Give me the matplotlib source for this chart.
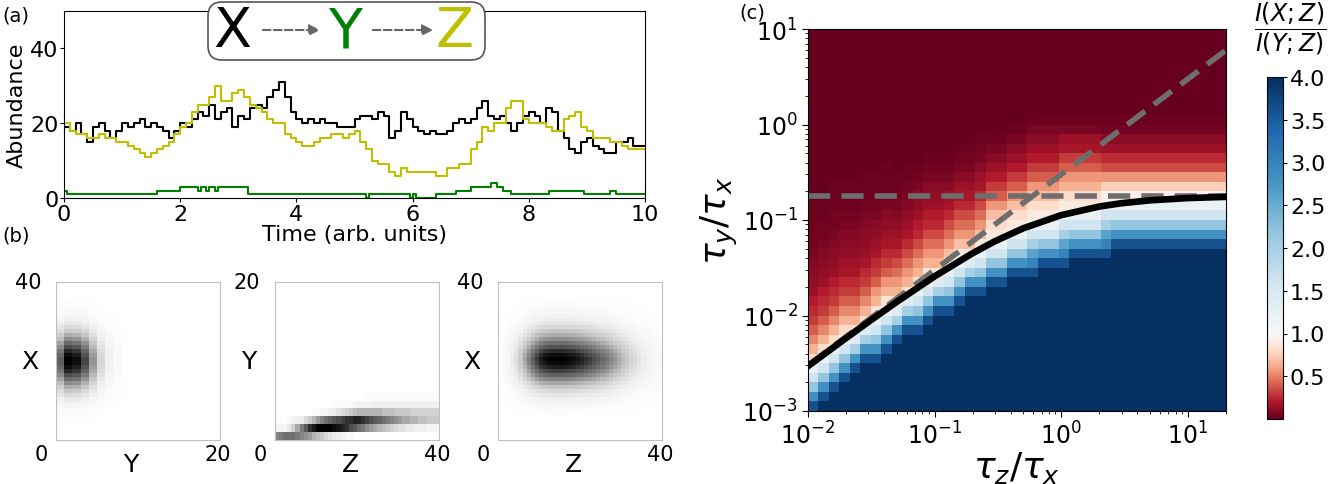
import numpy as np
import matplotlib
matplotlib.use('Agg')
import matplotlib.pyplot as plt
from matplotlib.colors import ListedColormap, Normalize
from matplotlib.patches import FancyBboxPatch, FancyArrowPatch
from matplotlib.transforms import IdentityTransform
from matplotlib.ticker import NullFormatter, FormatStrFormatter

W, H = 1344, 485

#--------------- (a) trajectories ---------------------------------------#
t_grid = np.linspace(0, 10, 101)
black_x = [19, 18, 20, 17, 15, 19, 20, 18, 16, 18,
           20, 19, 20, 21, 19, 20, 19, 18, 16, 18,
           20, 19, 21, 23, 22, 25, 21, 23, 24, 19,
           22, 21, 24, 25, 24, 27, 29, 31, 27, 23,
           21, 20, 21, 20, 21, 20, 20, 19, 19, 19,
           21, 22, 22, 21, 23, 22, 16, 18, 23, 21,
           19, 18, 17, 18, 17, 17, 18, 20, 21, 20,
           21, 24, 26, 22, 21, 22, 20, 18, 20, 22,
           23, 22, 20, 24, 23, 18, 16, 13, 12, 15,
           16, 14, 13, 12, 12, 15, 15, 16, 14, 14, 14]
yellow_z = [20, 18, 17, 17, 16, 16, 17, 16, 16, 15,
            15, 14, 13, 12, 11, 12, 13, 14, 15, 17,
            19, 20, 23, 25, 25, 27, 30, 26, 26, 28,
            29, 27, 25, 24, 23, 21, 20, 20, 17, 16,
            15, 14, 14, 15, 16, 16, 17, 17, 16, 17,
            18, 15, 13, 10, 9, 9, 7, 6, 8, 7,
            7, 7, 7, 7, 6, 6, 8, 8, 9, 9,
            13, 15, 19, 18, 20, 20, 24, 26, 26, 21,
            20, 20, 20, 19, 18, 18, 21, 22, 23, 19,
            18, 16, 16, 16, 15, 15, 14, 13, 13, 13, 13]
green_t = [0, 0.05, 1.6, 2.0, 2.3, 2.35, 2.45, 2.5, 2.6, 2.65, 3.17, 5.2, 5.25,
           5.95, 6.0, 6.05, 6.4, 6.75, 7.0, 7.35, 7.45, 7.55, 7.7, 8.35, 8.95,
           9.4, 9.5, 10.0]
green_y = [2, 1, 2, 3, 2, 3, 2, 3, 2, 3, 1, 0, 1,
           0, 1, 0, 1, 2, 3, 4, 3, 2, 1, 2, 1,
           2, 1, 1]

#--------------- (b) joint distributions -----------------#
# image 1: X (rows, 0-40) against Y (cols, 0-20), profiles
img1_rows = [0, 0, 0, 0, 0.01, 0.02, 0.03, 0.05, 0.08, 0.12, 0.17, 0.24, 0.32,
             0.42, 0.53, 0.65, 0.76, 0.86, 0.94, 0.99, 0.99, 0.94, 0.86, 0.76,
             0.65, 0.53, 0.42, 0.32, 0.24, 0.17, 0.12, 0.08, 0.05, 0.03, 0.02,
             0.01, 0, 0, 0, 0]
img1_cols = [0.7, 1.0, 0.95, 0.78, 0.5, 0.26, 0.12, 0.05, 0.02] + [0] * 11
# image 2: Y (rows 0-5 shown, of 20) against Z (cols, 0-40), darkness 0-25
img2_rows = [
    [14, 15, 16, 16, 16, 15, 14, 13, 12, 10, 9, 8, 6, 5, 4, 3, 2, 1, 1, 0] + [0] * 20,
    [2, 2, 2, 4, 7, 11, 15, 18, 21, 23, 25, 25, 25, 25, 24, 23, 22, 21, 19, 18,
     16, 15, 13, 12, 11, 10, 9, 8, 7, 6, 5, 5, 4, 4, 3, 3, 3, 2, 2, 2],
    [0, 0, 0, 1, 2, 3, 4, 6, 8, 10, 12, 14, 16, 17, 18, 19, 20, 21, 21, 22,
     22, 21, 20, 19, 18, 17, 16, 15, 14, 13, 12, 11, 11, 10, 10, 9, 9, 8, 8, 8],
    [0, 0, 0, 0, 0, 0, 0, 0, 0, 1, 1, 2, 2, 3, 4, 5, 6, 7, 8, 9,
     10, 10, 10, 10, 10, 10, 9, 9, 9, 8, 8, 8, 8, 7, 7, 7, 7, 7, 7, 7],
    [0] * 14 + [1, 1, 1, 1, 1, 2, 2, 2, 2] + [3] * 17,
    [0] * 22 + [1] * 18,
]
# image 3: X (rows, 0-40) against Z (cols, 0-40)
img3_rows = [0, 0, 0, 0, 0, 0.01, 0.02, 0.04, 0.06, 0.09, 0.13, 0.18, 0.25, 0.34,
             0.45, 0.57, 0.69, 0.8, 0.9, 0.97, 1.0, 0.95, 0.86, 0.75, 0.64, 0.53,
             0.43, 0.34, 0.26, 0.19, 0.14, 0.1, 0.07, 0.05, 0.03, 0.02, 0.01, 0, 0, 0]
img3_cols = [0.01, 0.04, 0.08, 0.14, 0.22, 0.32, 0.45, 0.58, 0.7, 0.81,
             0.9, 0.95, 0.98, 1.0, 1.0, 1.0, 0.99, 0.97, 0.95, 0.92,
             0.89, 0.85, 0.81, 0.77, 0.72, 0.67, 0.62, 0.56, 0.5, 0.44,
             0.38, 0.33, 0.28, 0.23, 0.19, 0.15, 0.12, 0.09, 0.07, 0.05]

#--------------- (c) ratio map, one string per tau_z column (bottom -> top) ---#
RED_KEYS = 'abcdefghijklmnopqrstuvwxy'
RED_VALS = [0.0, 0.02, 0.04, 0.06, 0.08, 0.1, 0.12, 0.15, 0.18, 0.21, 0.25, 0.3,
            0.35, 0.4, 0.45, 0.5, 0.55, 0.6, 0.65, 0.7, 0.75, 0.8, 0.85, 0.9, 0.95]
BLUE_KEYS = 'ABCDEFGHIJKLMNOP'
BLUE_VALS = [1.0, 1.2, 1.4, 1.6, 1.8, 2.0, 2.2, 2.4, 2.6, 2.8, 3.0, 3.2, 3.4,
             3.6, 3.8, 4.0]
ratio_cols = [
    "NJGDBvspnlkjhgfedccbbbaaaaaaaaaaaaaaaaaa",
    "PNJGDBvspnlkjhgfedccbbbaaaaaaaaaaaaaaaaa",
    "PPNJGDBvspnlkjhgfedccbbbaaaaaaaaaaaaaaaa",
    "PPPNJGDBvspnlkihgfedcbbbaaaaaaaaaaaaaaaa",
    "PPPPNJFCvspnlkihgfedcbbbaaaaaaaaaaaaaaaa",
    "PPPPPNJFCvspnlkihgfedcbbbaaaaaaaaaaaaaaa",
    "PPPPPNJGDBwsqnlkihgfdcbbbaaaaaaaaaaaaaaa",
    "PPPPPPNJGDBwsqnlkihgfdcbbbaaaaaaaaaaaaaa",
    "PPPPPPPNJFCwsqomkihgedcbbaaaaaaaaaaaaaaa",
    "PPPPPPPPNJFCwsqomkihgedcbbaaaaaaaaaaaaaa",
    "PPPPPPPPNJGDBwsqomkjhgfdcbaaaaaaaaaaaaaa",
    "PPPPPPPPPNJGDBwsqomkjhgfdcbaaaaaaaaaaaaa",
    "PPPPPPPPPPNJFCwsqomkjhgfdcbaaaaaaaaaaaaa",
    "PPPPPPPPPPNJGDBxtqomkihfdcbaaaaaaaaaaaaa",
    "PPPPPPPPPPPNJGDBxtqomkihfdcbaaaaaaaaaaaa",
    "PPPPPPPPPPPPNJFCxtqomkihfdcbaaaaaaaaaaaa",
    "PPPPPPPPPPPPNJGDBxtqomkihfdcbaaaaaaaaaaa",
    "PPPPPPPPPPPPPNJGDBxvtqnljhfdbaaaaaaaaaaa",
    "PPPPPPPPPPPPPNJGDBxvtqnljhfdbaaaaaaaaaaa",
    "PPPPPPPPPPPPPPNJGDBxvtqnljhfdbaaaaaaaaaa",
    "PPPPPPPPPPPPPPNJGDBxvtqnljhfdbaaaaaaaaaa",
    "PPPPPPPPPPPPPPNKIFDBxvtqnljhfdbaaaaaaaaa",
    "PPPPPPPPPPPPPPPNJGDBxvtqnljhfdbaaaaaaaaa",
    "PPPPPPPPPPPPPPPNJGDBxvtqnljhfdbaaaaaaaaa",
    "PPPPPPPPPPPPPPPNKIFDBxvsqnlihdbaaaaaaaaa",
    "PPPPPPPPPPPPPPPPNJGDBxvsqnlihdbaaaaaaaaa",
    "PPPPPPPPPPPPPPPPNJGDBxvsqnlihdbaaaaaaaaa",
    "PPPPPPPPPPPPPPPPNJGDBxvsqnlihdbaaaaaaaaa",
    "PPPPPPPPPPPPPPPPNKIFDByuqmkhfcbaaaaaaaaa",
    "PPPPPPPPPPPPPPPPPNJGDByuqmkhfcbaaaaaaaaa",
    "PPPPPPPPPPPPPPPPPNJGDByuqmkhfcbaaaaaaaaa",
    "PPPPPPPPPPPPPPPPPNJGDByuqmkhfcbaaaaaaaaa",
    "PPPPPPPPPPPPPPPPPNJGDByuqmkhfcbaaaaaaaaa",
    "PPPPPPPPPPPPPPPPPNJGDByuqmkhfcbaaaaaaaaa",
    "PPPPPPPPPPPPPPPPPNJGDByuqmkhfcbaaaaaaaaa",
    "PPPPPPPPPPPPPPPPPNJGDByuqmkhfcbaaaaaaaaa",
    "PPPPPPPPPPPPPPPPPNJGDByuqmkhfcbaaaaaaaaa",
    "PPPPPPPPPPPPPPPPPNJGDByuqmkhfcbaaaaaaaaa",
    "PPPPPPPPPPPPPPPPPNJGDByuqmkhfcbaaaaaaaaa",
    "PPPPPPPPPPPPPPPPPNJGDByuqmkhfcbaaaaaaaaa",
]
# black curve I(X;Z)=I(Y;Z) and the two dashed asymptotes
curve_tz = [0.01, 0.02, 0.03, 0.05, 0.1, 0.2, 0.3, 0.5, 1, 2, 3, 5, 10, 20]
curve_ty = [0.00295, 0.00581, 0.00857, 0.01384, 0.0257, 0.045, 0.06, 0.0818,
            0.1125, 0.1384, 0.15, 0.1606, 0.1697, 0.1747]
hline_tz = [0.01, 20]
hline_ty = [0.18, 0.18]
diag_tz = [0.01, 20]
diag_ty = [0.003, 6.0]

#--------------- writing plots -----------------#
fig = plt.figure(figsize=(W / 100, H / 100), dpi=100)


def fx(x, y):
    return x / W, 1 - y / H


# ---- (a)
axa = fig.add_axes([64 / W, 1 - 199 / H, 581 / W, 187 / H])
axa.step(t_grid, black_x, where='post', color='k', lw=1.5)
axa.step(green_t, green_y, where='post', color='#008000', lw=1.5)
axa.step(t_grid, yellow_z, where='post', color='#bfbf00', lw=1.5)
axa.set_xlim(0, 10)
axa.set_ylim(0, 50)
axa.set_xticks([0, 2, 4, 6, 8, 10])
axa.set_yticks([0, 20, 40])
axa.tick_params(labelsize=16, length=3, pad=1)
axa.set_xlabel('Time (arb. units)', fontsize=16, labelpad=0)
axa.set_ylabel('Abundance', fontsize=16, labelpad=2)

box = FancyBboxPatch((208, H - 61), 277, 58, boxstyle='round,pad=0,rounding_size=14',
                     transform=IdentityTransform(), facecolor='white',
                     edgecolor='#555555', lw=1.2, zorder=5)
fig.add_artist(box)
for letter, xc, col in [('X', 232, 'k'), ('Y', 345, '#008000'), ('Z', 455, '#bfbf00')]:
    fig.text(*fx(xc, 32), letter, fontsize=40, color=col, ha='center', va='center', zorder=6)
for x0, x1 in [(260, 323), (370, 436)]:
    arr = FancyArrowPatch((x0, H - 31), (x1, H - 31), transform=IdentityTransform(),
                          arrowstyle='-|>', mutation_scale=16, lw=1.5, ls='--',
                          color='#666666', zorder=6)
    fig.add_artist(arr)

# ---- (b)
img1 = np.outer(img1_rows, img1_cols)
img2 = np.zeros((20, 40))
img2[:len(img2_rows)] = img2_rows
img3 = np.outer(img3_rows, img3_cols)
panels = [
    (56, img1, (0, 20, 0, 40), 'Y', 'X', '40', '20'),
    (275, img2, (0, 40, 0, 20), 'Z', 'Y', '20', '40'),
    (498, img3, (0, 40, 0, 40), 'Z', 'X', '40', '40'),
]
for left, img, ext, xl, yl, ytop, xright in panels:
    ax = fig.add_axes([left / W, 1 - 441 / H, 164 / W, 158 / H])
    ax.imshow(img, cmap='Greys', origin='lower', extent=ext, aspect='auto',
              interpolation='nearest', vmin=0, vmax=img.max())
    ax.set_xticks([])
    ax.set_yticks([])
    for s in ax.spines.values():
        s.set_color('#c0c0c0')
    fig.text(*fx(left - 28, 283), ytop, fontsize=15, ha='center', va='center')
    fig.text(*fx(left - 15, 455), '0', fontsize=15, ha='center', va='center')
    fig.text(*fx(left + 162, 455), xright, fontsize=15, ha='center', va='center')
    fig.text(*fx(left + 75, 465), xl, fontsize=18, ha='center', va='center')
    fig.text(*fx(left - 26, 362), yl, fontsize=18, ha='center', va='center')

# ---- (c)
lookup = dict(zip(RED_KEYS, RED_VALS))
lookup.update(zip(BLUE_KEYS, BLUE_VALS))
assert all(len(c) == 40 for c in ratio_cols)
ratio = np.array([[lookup[ch] for ch in col] for col in ratio_cols]).T
tz_edges = np.logspace(-2, np.log10(20), 41)
ty_edges = np.logspace(-3, 1, 41)

rdbu = plt.get_cmap('RdBu')
cmap = ListedColormap(np.vstack([rdbu(np.linspace(0, 0.5, 64)),
                                 rdbu(np.linspace(0.5, 1, 192))]))

axc = fig.add_axes([808 / W, 1 - 412 / H, 418 / W, 382 / H])
mesh = axc.pcolormesh(tz_edges, ty_edges, ratio, cmap=cmap, norm=Normalize(0, 4))
axc.set_xscale('log')
axc.set_yscale('log')
axc.plot(hline_tz, hline_ty, color='#6e6e6e', lw=4, dashes=(4, 2))
axc.plot(diag_tz, diag_ty, color='#6e6e6e', lw=4, dashes=(4, 2))
axc.plot(curve_tz, curve_ty, color='k', lw=4.8)
axc.set_xlim(1e-2, 20)
axc.set_ylim(1e-3, 10)
axc.tick_params(which='major', labelsize=17, length=4)
axc.tick_params(which='minor', length=2)
axc.xaxis.set_minor_formatter(NullFormatter())
axc.yaxis.set_minor_formatter(NullFormatter())
axc.set_xlabel(r'$\tau_z/\tau_x$', fontsize=26, labelpad=0)
axc.set_ylabel(r'$\tau_y/\tau_x$', fontsize=26, labelpad=2)

cax = fig.add_axes([1267 / W, 1 - 420 / H, 16 / W, 342 / H])
cb = fig.colorbar(mesh, cax=cax, ticks=[0.5, 1.0, 1.5, 2.0, 2.5, 3.0, 3.5, 4.0])
cb.ax.yaxis.set_major_formatter(FormatStrFormatter('%.1f'))
cb.ax.tick_params(labelsize=16, length=3, pad=2)
fig.text(*fx(1290, 29), r'$\dfrac{I(X;Z)}{I(Y;Z)}$', fontsize=17, ha='center', va='center')

fig.text(*fx(16, 16), '(a)', fontsize=14, ha='center', va='center')
fig.text(*fx(16, 236), '(b)', fontsize=14, ha='center', va='center')
fig.text(*fx(752, 13), '(c)', fontsize=14, ha='center', va='center')

fig.savefig('out.png', dpi=100)
